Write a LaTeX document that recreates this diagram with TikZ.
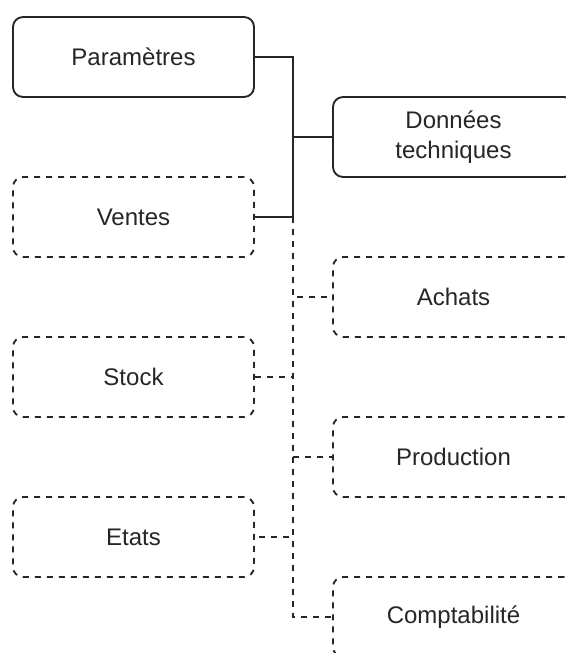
\documentclass[tikz,border=0pt]{standalone}
\usepackage{fontspec}
\setmainfont{Liberation Sans}
\begin{document}
\begin{tikzpicture}[x=0.75pt,y=-0.75pt,
  box/.style={draw=black!85, line width=1.4pt, rounded corners=7.5pt, rectangle,
    minimum width=180.75pt, minimum height=60pt, inner sep=0pt,
    font=\fontsize{18}{22.5}\selectfont, text=black!85, align=center},
  solidbox/.style={box},
  dashbox/.style={box, dash pattern=on 4.5pt off 4.5pt},
  link/.style={draw=black!85, line width=1.4pt},
  dashlink/.style={link, dash pattern=on 4.5pt off 4.5pt}]
\useasboundingbox (0,0) rectangle (566,653);
\clip (0,0) rectangle (566,653);
\fill[white] (0,0) rectangle (566,653);
\node[solidbox] (par) at (133.5,57) {Paramètres};
\node[solidbox] (don) at (453.5,137) {Données\\techniques};
\node[dashbox] (ven) at (133.5,217) {Ventes};
\node[dashbox] (ach) at (453.5,297) {Achats};
\node[dashbox] (sto) at (133.5,377) {Stock};
\node[dashbox] (pro) at (453.5,457) {Production};
\node[dashbox] (eta) at (133.5,537) {Etats};
\node[dashbox] (com) at (453.5,617) {Comptabilité};
\coordinate (bus) at (293,217);
% dashed connectors
\draw[dashlink] (bus) |- (ach.west);
\draw[dashlink] (bus) |- (sto.east);
\draw[dashlink] (bus) |- (pro.west);
\draw[dashlink] (bus) |- (eta.east);
\draw[dashlink] (bus) |- (com.west);
% solid connectors
\draw[link] (par.east) -- (par.east -| bus) |- (don.west);
\draw[link] (par.east) -- (par.east -| bus) |- (ven.east);
\end{tikzpicture}
\end{document}
